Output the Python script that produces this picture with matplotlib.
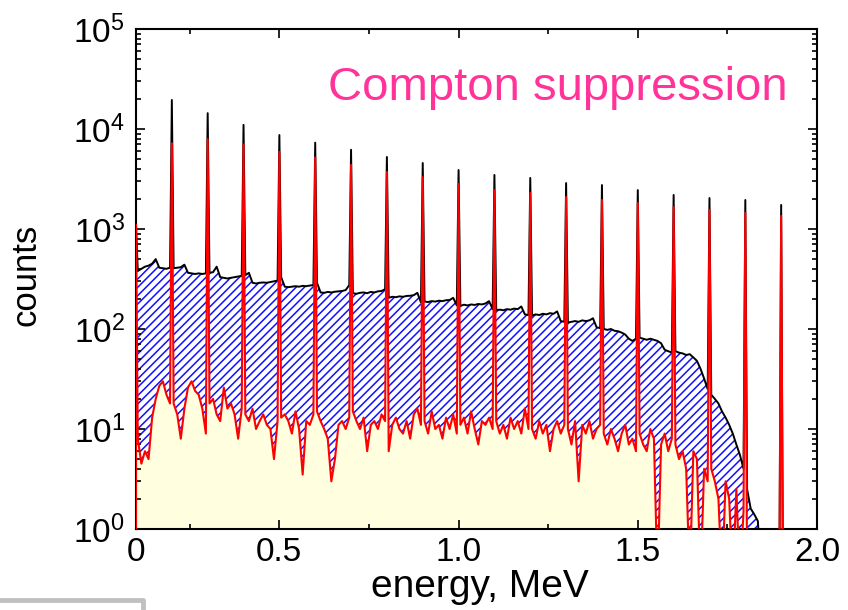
import numpy as np
import matplotlib.pyplot as plt
from matplotlib.ticker import FixedLocator, LogLocator, NullFormatter
from matplotlib.lines import Line2D

plt.rcParams['font.family'] = ['Liberation Sans', 'DejaVu Sans']
plt.rcParams['mathtext.default'] = 'regular'
plt.rcParams['hatch.linewidth'] = 1.1

# Kanaele 0.10 ... 2.00 MeV, Breite 0.01 MeV
e_start = 0.10
e_breite = 0.01

# ohne Unterdrueckung (schwarz)
counts_ohne = [
    380, 400, 420, 430, 450, 500, 410, 405, 400, 410,
    405, 410, 415, 440, 365, 360, 355, 360, 355, 360,
    365, 370, 420, 330, 325, 320, 325, 330, 335, 340,
    345, 365, 290, 285, 290, 292, 290, 295, 300, 305,
    330, 265, 262, 265, 268, 265, 270, 268, 272, 275,
    290, 232, 230, 235, 232, 236, 238, 240, 245, 275,
    228, 225, 230, 232, 228, 235, 232, 238, 240, 250,
    205, 210, 208, 212, 210, 214, 215, 218, 230, 185,
    188, 186, 190, 188, 192, 190, 194, 195, 205, 172,
    170, 175, 172, 176, 174, 178, 176, 180, 190, 158,
    155, 156, 154, 158, 156, 160, 158, 168, 140, 138,
    136, 140, 138, 142, 140, 144, 142, 150, 120, 118,
    116, 118, 120, 118, 122, 120, 122, 128, 104, 102,
    100, 98, 100, 96, 95, 92, 88, 80, 76, 80,
    82, 80, 78, 80, 78, 76, 72, 62, 60, 58,
    60, 58, 57, 55, 56, 52, 48, 40, 32, 25,
    22, 20, 18, 15, 13, 11, 9, 7, 5.5, 4,
    2.5, 1.6, 1.4, 1.2, 0, 0, 0, 0, 0, 0,
    0, 0, 0, 0, 0, 0, 0, 0, 0, 0,
]

# mit Compton-Unterdrueckung (rot)
counts_mit = [
    8, 4.5, 6, 5, 13, 20, 27, 30, 22, 18,
    18, 14, 8, 16, 26, 30, 24, 22, 16, 9,
    18, 20, 14, 12, 26, 16, 18, 14, 8, 16,
    14, 12, 16, 10, 12, 14, 11, 10, 5, 12,
    13, 14, 12, 9, 15, 10, 3.5, 12, 11, 14,
    15, 12, 10, 8, 3, 5, 11, 12, 10, 13,
    15, 12, 10, 13, 6, 11, 12, 10, 14, 12,
    6, 11, 13, 10, 9, 12, 8, 14, 16, 11,
    12, 9, 15, 10, 11, 8, 13, 10, 14, 9,
    11, 13, 9, 15, 10, 7, 12, 11, 13, 10,
    12, 9, 11, 8, 13, 10, 12, 9, 16, 10,
    10, 8, 12, 9, 11, 6, 10, 12, 9, 11,
    10, 7, 12, 3, 11, 9, 12, 8, 10, 11,
    9, 7, 10, 8, 6, 9, 11, 7, 8, 6,
    9, 7, 6, 10, 8, 0, 7, 9, 6, 8,
    7, 5, 6, 4, 0, 6, 5, 0, 4, 3,
    4, 3, 2, 0, 3, 2, 0, 2.5, 0, 1.5,
    0, 0, 0, 0, 0, 0, 0, 0, 0, 0,
    0, 0, 0, 0, 0, 0, 0, 0, 0, 0,
]

# Linien
peak_e = [0.2, 0.3, 0.4, 0.5, 0.6, 0.7, 0.8, 0.9, 1.0,
          1.1, 1.2, 1.3, 1.4, 1.5, 1.6, 1.7, 1.8, 1.9]
peak_ohne = [19500, 14400, 11000, 8700, 7300, 6200, 5250, 4570, 3890,
             3470, 3240, 2880, 2750, 2450, 2190, 2040, 1950, 1740]
peak_mit = [7200, 7900, 7000, 5900, 5200, 4370, 3720, 3300, 2820,
            2450, 2290, 2090, 1950, 1820, 1660, 1550, 1450, 1350]

erster_kanal = 1100   # roter Strich am linken Rand
boden = 0.3           # leere Kanaele unter die Achse legen

mitte = e_start + e_breite * (np.arange(len(counts_ohne)) + 0.5)
x = np.concatenate([mitte, peak_e])
y_ohne = np.concatenate([counts_ohne, peak_ohne]).astype(float)
y_mit = np.concatenate([counts_mit, peak_mit]).astype(float)
idx = np.argsort(x)
x = np.concatenate([[e_start, e_start], x[idx]])
y_ohne = np.concatenate([[boden, erster_kanal], y_ohne[idx]])
y_mit = np.concatenate([[boden, erster_kanal], y_mit[idx]])
y_ohne[y_ohne <= 0] = boden
y_mit[y_mit <= 0] = boden

fig = plt.figure(figsize=(8.48, 6.10), dpi=100)
ax = fig.add_axes([136/848, 1-529/610, 681/848, 500/610])

ax.fill_between(x, boden, y_mit, color='#ffffe0', lw=0, zorder=1)
ax.fill_between(x, y_mit, y_ohne, where=y_ohne > y_mit, interpolate=True,
                facecolor='none', edgecolor='#1010ff', hatch='////', lw=0, zorder=1.2)
ax.plot(x, y_ohne, color='black', lw=1.4, zorder=2)
ax.plot(x, y_mit, color='red', lw=1.5, zorder=3)

ax.set_yscale('log')
ax.set_ylim(1, 1e5)
ax.set_xlim(0.1, 2.0)

ax.xaxis.set_major_locator(FixedLocator([0.1, 0.5, 1.0, 1.5, 2.0]))
ax.set_xticklabels(['0', '0.5', '1.0', '1.5', '2.0'])
ax.xaxis.set_minor_locator(FixedLocator([0.25, 0.75, 1.25, 1.75]))
ax.yaxis.set_minor_locator(LogLocator(base=10, subs=np.arange(2, 10)))
ax.yaxis.set_minor_formatter(NullFormatter())

ax.tick_params(which='both', direction='in', top=True, right=True, width=1.2)
ax.tick_params(which='major', length=6.5, labelsize=24)
ax.tick_params(axis='x', which='major', pad=6)
ax.tick_params(axis='y', which='major', pad=8)
ax.tick_params(which='minor', length=3.6)
for s in ax.spines.values():
    s.set_linewidth(1.5)

fig.text(26/848, 1-275/610, 'counts', rotation=90, ha='center', va='center', fontsize=25)
fig.text(480/848, 1-597/610, 'energy, MeV', ha='center', va='baseline', fontsize=28)
fig.text(328/848, 1-100/610, 'Compton suppression', ha='left', va='baseline',
         fontsize=34, color='#ff3399')

# grauer Rahmen unten links
fig.add_artist(Line2D([0, 143/848, 143/848], [10/610, 10/610, 0],
                      transform=fig.transFigure, color='#c0c0c0', lw=3.5,
                      solid_joinstyle='round'))

fig.savefig('out.png', dpi=100)
